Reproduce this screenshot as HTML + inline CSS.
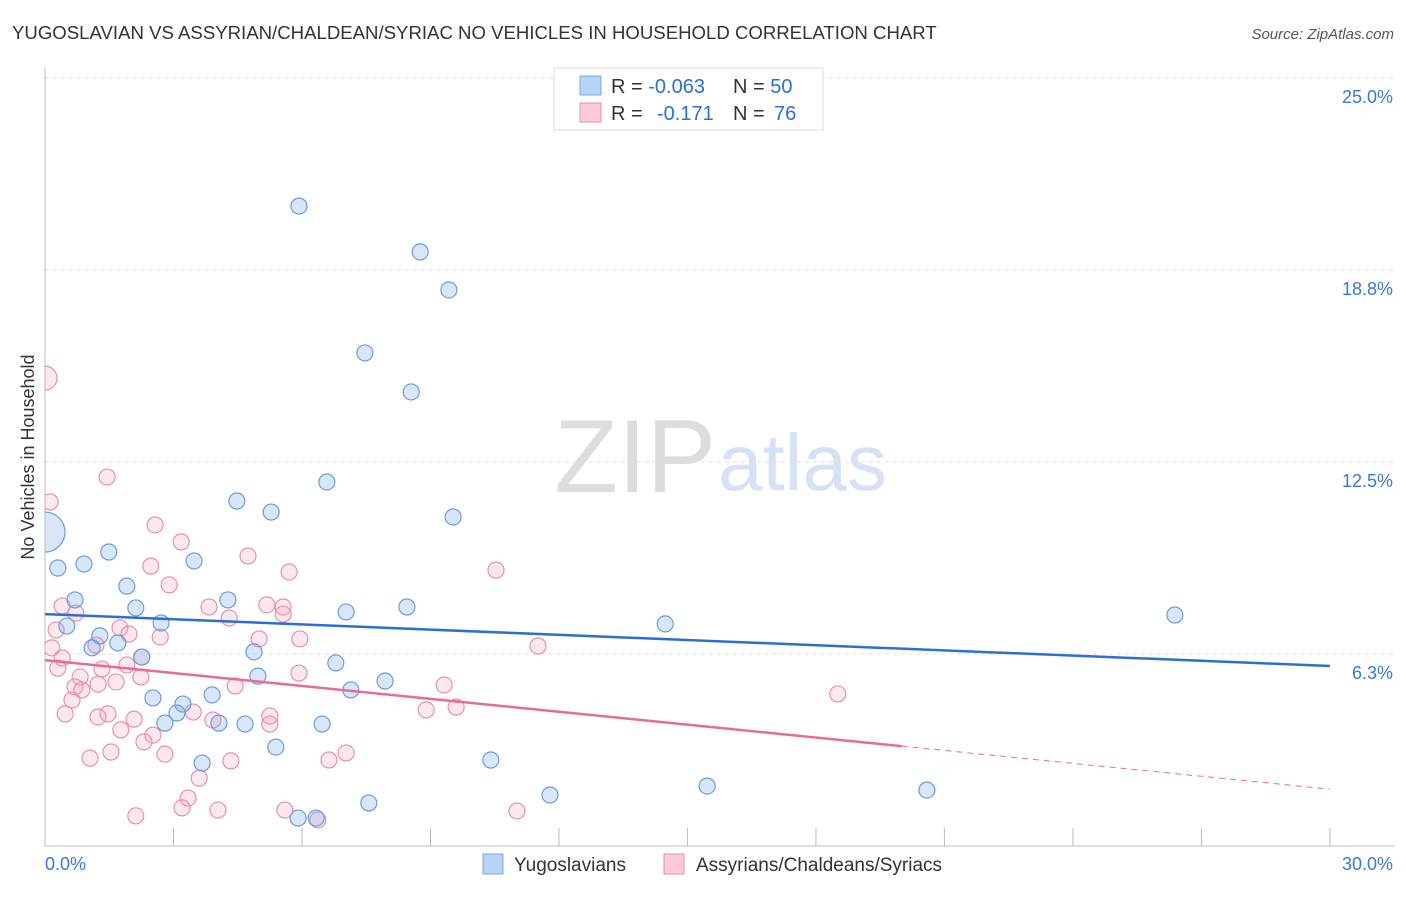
<!DOCTYPE html>
<html><head><meta charset="utf-8">
<style>
body{margin:0;background:#fff;font-family:"Liberation Sans",sans-serif;}
svg text{font-family:"Liberation Sans",sans-serif;}
</style></head>
<body>
<svg id="chart" width="1406" height="892" xmlns="http://www.w3.org/2000/svg">
<defs><clipPath id="plotclip"><rect x="45" y="60" width="1360" height="790"/></clipPath></defs>
<text x="12" y="39" font-size="18.6" fill="#333">YUGOSLAVIAN VS ASSYRIAN/CHALDEAN/SYRIAC NO VEHICLES IN HOUSEHOLD CORRELATION CHART</text>
<text x="1394" y="39" font-size="15" fill="#555" font-style="italic" text-anchor="end">Source: ZipAtlas.com</text>
<text x="716" y="492" font-size="104" fill="#ddd" text-anchor="end" font-family="Liberation Serif">ZIP</text>
<text x="718" y="490" font-size="80" fill="#d6e2f4">atlas</text>
<text transform="translate(34,457) rotate(-90)" font-size="18" fill="#333" text-anchor="middle">No Vehicles in Household</text>
<g id="grid"></g><g id="marks" clip-path="url(#plotclip)"></g>
<g>
<rect x="554" y="68" width="269" height="62" fill="#fff" stroke="#ddd"/>
<rect x="580" y="76" width="21" height="19" fill="#b9d3f5" stroke="#7aa8e0"/>
<rect x="580" y="103" width="21" height="19" fill="#fbc9d8" stroke="#e890ac"/>
<text x="611" y="93" font-size="20" fill="#333">R = <tspan fill="#2a6fd6">-0.063</tspan><tspan x="733">N = </tspan><tspan fill="#2a6fd6">50</tspan></text>
<text x="611" y="120" font-size="20" fill="#333">R = <tspan x="657" fill="#2a6fd6">-0.171</tspan><tspan x="733">N = </tspan><tspan x="774" fill="#2a6fd6">76</tspan></text>
</g>
<g>
<rect x="483" y="854" width="20" height="20" fill="#b9d3f5" stroke="#7aa8e0"/>
<text x="514" y="871" font-size="19" fill="#333">Yugoslavians</text>
<rect x="664" y="854" width="20" height="20" fill="#fbc9d8" stroke="#e890ac"/>
<text x="696" y="871" font-size="19" fill="#333">Assyrians/Chaldeans/Syriacs</text>
</g>
</svg>
<script>
const yTicks=[6.3,12.5,18.8,25.0];
const yTickVals=[6.25,12.5,18.75,25];
const blueX=[5.93,8.76,9.43,7.47,8.55,6.58,4.48,5.28,9.53,0,0.30,0.91,1.49,3.48,1.91,0.70,0.51,1.28,1.70,2.12,2.71,4.27,7.03,8.45,14.48,26.38,1.10,2.26,4.88,6.79,4.97,7.14,7.94,2.52,3.90,3.22,3.08,2.80,4.06,4.67,6.47,5.39,3.67,10.41,15.46,11.79,7.56,20.59,5.91,6.33];
const blueY=[20.83,19.34,18.10,16.05,14.78,11.85,11.23,10.87,10.71,10.22,9.05,9.18,9.57,9.28,8.46,8.01,7.16,6.84,6.61,7.75,7.26,8.01,7.62,7.78,7.23,7.52,6.45,6.15,6.32,5.96,5.53,5.08,5.37,4.82,4.92,4.62,4.33,4.00,4.00,3.97,3.97,3.22,2.70,2.80,1.95,1.66,1.40,1.82,0.91,0.91];
const pinkX=[0,0.12,1.45,2.57,3.18,4.74,2.47,2.90,5.70,10.53,0.40,0.72,3.83,5.18,5.56,4.30,5.56,1.75,1.96,2.69,0.26,5.00,5.95,11.51,0.16,0.40,0.30,1.19,1.33,1.91,2.26,0.82,0.70,0.86,1.24,1.66,2.24,4.44,5.93,9.32,18.51,0.63,0.47,1.24,1.47,2.08,3.46,3.92,5.25,5.25,8.90,9.60,1.77,2.52,2.31,1.54,1.05,2.80,4.34,6.63,7.03,3.60,3.34,3.20,4.04,5.60,6.37,11.02,2.12];
const pinkY=[15.23,11.20,12.01,10.45,9.90,9.44,9.11,8.50,8.92,8.98,7.81,7.58,7.78,7.85,7.78,7.42,7.55,7.10,6.90,6.80,7.03,6.74,6.74,6.51,6.45,6.12,5.79,6.54,5.76,5.89,6.15,5.50,5.18,5.08,5.27,5.34,5.50,5.21,5.63,5.24,4.95,4.75,4.30,4.20,4.30,4.13,4.36,4.10,4.23,3.97,4.43,4.52,3.78,3.61,3.39,3.06,2.86,2.99,2.77,2.80,3.03,2.21,1.56,1.24,1.17,1.17,0.85,1.14,0.98];
const blueTrend=[7.55,5.86];
const pinkTrend=[6.05,1.85];
const pinkSolidEnd=20;
const NS='http://www.w3.org/2000/svg';
const sx=v=>45+v*42.83, sy=v=>846-v*30.72;
function mk(tag,a,p){const e=document.createElementNS(NS,tag);for(const k in a)e.setAttribute(k,a[k]);p.appendChild(e);return e;}
const grid=document.getElementById('grid'),marks=document.getElementById('marks');
yTickVals.forEach((v,i)=>{
 const l=mk('line',{x1:45,x2:1394,y1:sy(v),y2:sy(v),stroke:'#ddd','stroke-dasharray':'4,4'},grid);
 
 
 const t=mk('text',{x:1393,y:sy(v)+25,'font-size':18,fill:'#3b78d8','text-anchor':'end'},grid);t.textContent=yTicks[i].toFixed(1)+'%';
 
 
});
mk('line',{x1:45,x2:45,y1:68,y2:846,stroke:'#bbb'},grid);
mk('line',{x1:45,x2:1394,y1:846,y2:846,stroke:'#bbb'},grid);
for(let i=0;i<=10;i++){const tk=mk('line',{x1:sx(i*3),x2:sx(i*3),y1:828,y2:846,stroke:'#bbb'},grid);
 
 }
const xl=mk('text',{x:45,y:870,'font-size':18,fill:'#3b78d8'},grid);xl.textContent='0.0%';


const xr=mk('text',{x:1393,y:870,'font-size':18,fill:'#3b78d8','text-anchor':'end'},grid);xr.textContent='30.0%';


pinkX.forEach((x,i)=>{const c=mk('circle',{cx:sx(x),cy:sy(pinkY[i]),r:i===0?12:8,fill:'rgba(244,150,180,0.22)',stroke:'#e890ac','stroke-width':1.2},marks);
 
 });
blueX.forEach((x,i)=>{const c=mk('circle',{cx:sx(x),cy:sy(blueY[i]),r:i===9?20:8,fill:'rgba(120,165,230,0.28)',stroke:'#6a9ddd','stroke-width':1.2},marks);
 
 });
const bl=mk('line',{x1:sx(0),y1:sy(blueTrend[0]),x2:sx(30),y2:sy(blueTrend[1]),stroke:'#2a6fd6','stroke-width':2.5},marks);


const pm=pinkTrend[0]+(pinkTrend[1]-pinkTrend[0])*pinkSolidEnd/30;
const pl=mk('line',{x1:sx(0),y1:sy(pinkTrend[0]),x2:sx(pinkSolidEnd),y2:sy(pm),stroke:'#e8699a','stroke-width':2.5},marks);


const pd=mk('line',{x1:sx(pinkSolidEnd),y1:sy(pm),x2:sx(30),y2:sy(pinkTrend[1]),stroke:'#e8699a','stroke-width':1,'stroke-dasharray':'6,5'},marks);


</script>
</body></html>
